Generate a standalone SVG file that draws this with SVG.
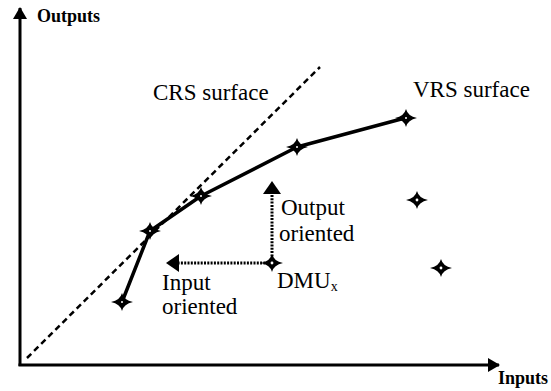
<svg xmlns="http://www.w3.org/2000/svg" width="551" height="391" viewBox="0 0 551 391">
<defs>
<path id="star" d="M0,-9 Q1.8,-1.8 11,0 Q1.8,1.8 0,9 Q-1.8,1.8 -11,0 Q-1.8,-1.8 0,-9 Z"/>
<marker id="tri" viewBox="0 0 12 14" refX="11" refY="7" markerWidth="12" markerHeight="14" markerUnits="userSpaceOnUse" orient="auto"><path d="M0,0 L12,7 L0,14 Z" fill="#000"/></marker>
<marker id="tri2" viewBox="0 0 13 18" refX="1" refY="9" markerWidth="13" markerHeight="18" markerUnits="userSpaceOnUse" orient="auto"><path d="M0,0 L13,9 L0,18 Z" fill="#000"/></marker>
</defs>
<style>
text{font-family:"Liberation Serif","Times New Roman",serif;fill:#000}
.ax{font-weight:bold;font-size:18px}
.lb{font-size:23px}
.pt use{fill:#000}
.pt circle{fill:#fff}
</style>
<rect width="551" height="391" fill="#fff"/>
<g id="connectors">
<line x1="20" y1="366" x2="20" y2="8" stroke="#000" stroke-width="3" marker-end="url(#tri)"/>
<line x1="18.5" y1="365" x2="499" y2="365" stroke="#000" stroke-width="3" marker-end="url(#tri)"/>
<line x1="27" y1="358" x2="320" y2="67" stroke="#000" stroke-width="2.5" stroke-dasharray="6,4"/>
<polyline points="122,302 150,231 201,196 297,147 405,118" fill="none" stroke="#000" stroke-width="3.5" stroke-linejoin="round"/>
<line x1="272" y1="263" x2="178" y2="263" stroke="#000" stroke-width="3" stroke-dasharray="2,1.3" marker-end="url(#tri2)"/>
<line x1="272" y1="263" x2="272" y2="193" stroke="#000" stroke-width="3" stroke-dasharray="2,1.3" marker-end="url(#tri2)"/>
</g>
<g id="p1" class="pt"><use href="#star" x="122" y="302"/><circle cx="122" cy="302" r="1"/></g>
<g id="p2" class="pt"><use href="#star" x="150" y="231"/><circle cx="150" cy="231" r="1"/></g>
<g id="p3" class="pt"><use href="#star" x="201" y="196"/><circle cx="201" cy="196" r="1"/></g>
<g id="p4" class="pt"><use href="#star" x="297" y="147"/><circle cx="297" cy="147" r="1"/></g>
<g id="p5" class="pt"><use href="#star" x="406" y="118"/><circle cx="406" cy="118" r="1"/></g>
<g id="p6" class="pt"><use href="#star" x="417" y="200"/><circle cx="417" cy="200" r="1.4"/></g>
<g id="p7" class="pt"><use href="#star" x="441" y="268"/><circle cx="441" cy="268" r="1.4"/></g>
<g id="dmu" class="pt"><use href="#star" x="272" y="263"/><circle cx="272" cy="263" r="1.4"/></g>
<g id="labels">
<text class="ax" x="37" y="22">Outputs</text>
<text class="ax" x="498" y="384">Inputs</text>
<text class="lb" x="153" y="100">CRS surface</text>
<text class="lb" x="413" y="97">VRS surface</text>
<text class="lb" x="281" y="215">Output</text>
<text class="lb" x="279" y="241">oriented</text>
<text class="lb" x="162" y="290">Input</text>
<text class="lb" x="162" y="314">oriented</text>
<text class="lb" x="277" y="288">DMU<tspan font-size="14" dy="3">x</tspan></text>
</g>
</svg>
